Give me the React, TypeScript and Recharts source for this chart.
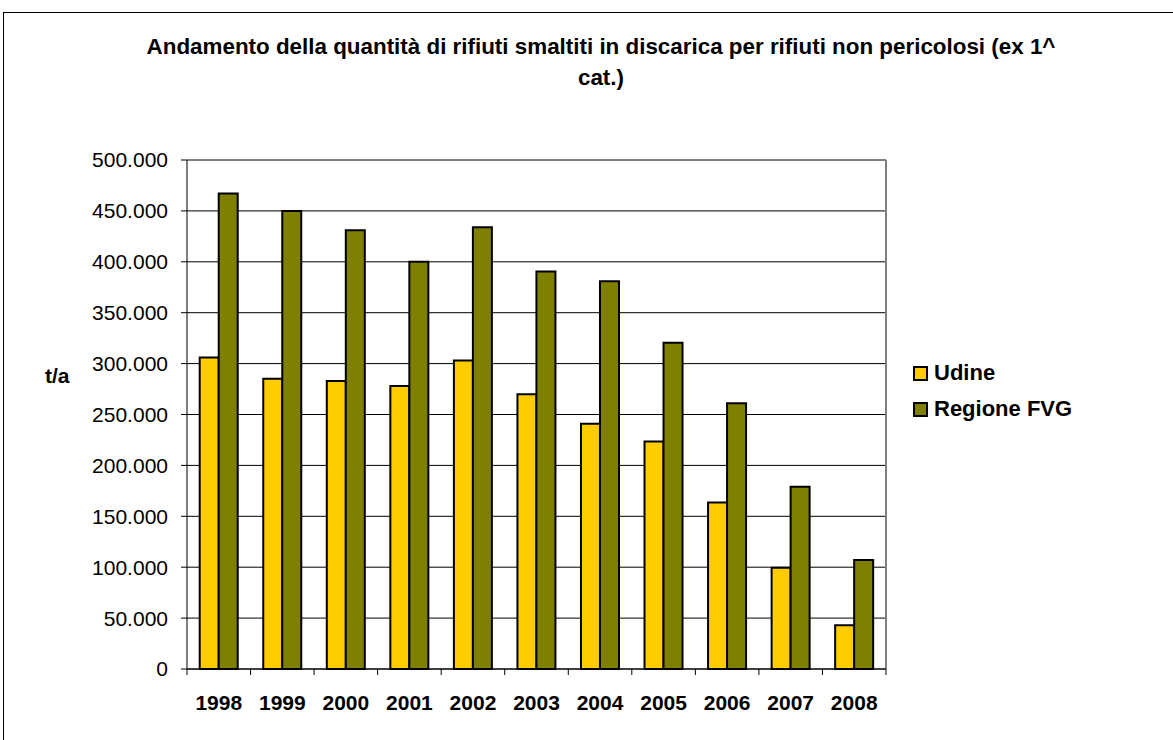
import { Bar, BarChart, CartesianGrid, XAxis, YAxis } from "recharts";

const years = ["1998", "1999", "2000", "2001", "2002", "2003", "2004", "2005", "2006", "2007", "2008"];
const udine = [306000, 285000, 283000, 278000, 303000, 270000, 241000, 223500, 163500, 99500, 43000];
const regioneFVG = [467000, 450000, 431000, 400000, 434000, 390500, 381000, 320500, 261000, 179000, 107000];
const yTicks = [0, 50000, 100000, 150000, 200000, 250000, 300000, 350000, 400000, 450000, 500000];

const rows = years.map((year, i) => ({ year, udine: udine[i], regione: regioneFVG[i] }));

const FONT = "'Liberation Sans', Arial, sans-serif";

// 500000 -> "500.000"
const fmt = (v: number) => String(v).replace(/\B(?=(\d{3})+(?!\d))/g, ".");

function YearTick(props: any) {
  const { x, y, payload, index } = props;
  const half = payload?.offset ?? 31.8;
  const last = index === years.length - 1;
  return (
    <g>
      <line x1={x - half} y1={y} x2={x - half} y2={y + 6} stroke="#000" strokeWidth={1} />
      {last && <line x1={x + half} y1={y} x2={x + half} y2={y + 6} stroke="#000" strokeWidth={1} />}
      <text x={x} y={y + 41} textAnchor="middle" fontFamily={FONT} fontWeight="bold" fontSize={21} fill="#000">
        {payload.value}
      </text>
    </g>
  );
}

export default function App() {
  return (
    <div style={{ position: "absolute", left: 0, top: 0, width: 1173, height: 740, background: "#fff", overflow: "hidden", fontFamily: FONT }}>
      <div style={{ position: "absolute", left: 3, top: 12, width: 1200, height: 760, border: "1px solid #000" }} />
      <div style={{ position: "absolute", left: 0, width: 1202, top: 31, textAlign: "center", fontWeight: "bold", fontSize: 22.4, lineHeight: "31px" }}>
        Andamento della quantità di rifiuti smaltiti in discarica per rifiuti non pericolosi (ex 1^
        <br />
        cat.)
      </div>
      <div style={{ position: "absolute", left: 45, top: 364, fontWeight: "bold", fontSize: 21 }}>t/a</div>
      <div style={{ position: "absolute", left: 913, top: 355, fontWeight: "bold", fontSize: 22, lineHeight: "36px" }}>
        {[
          { name: "Udine", color: "#FFCC00" },
          { name: "Regione FVG", color: "#808000" },
        ].map((s) => (
          <div key={s.name} style={{ display: "flex", alignItems: "center" }}>
            <span style={{ display: "inline-block", width: 11, height: 11, background: s.color, border: "2px solid #000", marginRight: 6 }} />
            {s.name}
          </div>
        ))}
      </div>
      <div style={{ position: "absolute", left: 0, top: 0 }}>
        <BarChart
          width={1173}
          height={740}
          data={rows}
          margin={{ top: 160, right: 287, bottom: 31, left: 107 }}
          barCategoryGap="20%"
          barGap={0}
        >
          <CartesianGrid vertical={false} stroke="#000" strokeWidth={1} />
          {/* grey right-hand frame of the plot area */}
          <CartesianGrid
            horizontal={false}
            stroke="#808080"
            strokeWidth={2}
            verticalCoordinatesGenerator={({ offset }: any) => [offset.left + offset.width]}
          />
          <XAxis
            dataKey="year"
            height={40}
            axisLine={{ stroke: "#000" }}
            tickLine={false}
            tickSize={0}
            tickMargin={0}
            interval={0}
            tick={<YearTick />}
          />
          <YAxis
            domain={[0, 500000]}
            ticks={yTicks}
            width={80}
            interval={0}
            tickFormatter={fmt}
            axisLine={{ stroke: "#000" }}
            tickLine={{ stroke: "#000" }}
            tickSize={6}
            tickMargin={13}
            tick={{ fill: "#000", fontSize: 21, fontFamily: FONT }}
          />
          <Bar dataKey="udine" name="Udine" fill="#FFCC00" stroke="#000" strokeWidth={2} isAnimationActive={false} />
          <Bar dataKey="regione" name="Regione FVG" fill="#808000" stroke="#000" strokeWidth={2} isAnimationActive={false} />
        </BarChart>
      </div>
    </div>
  );
}
